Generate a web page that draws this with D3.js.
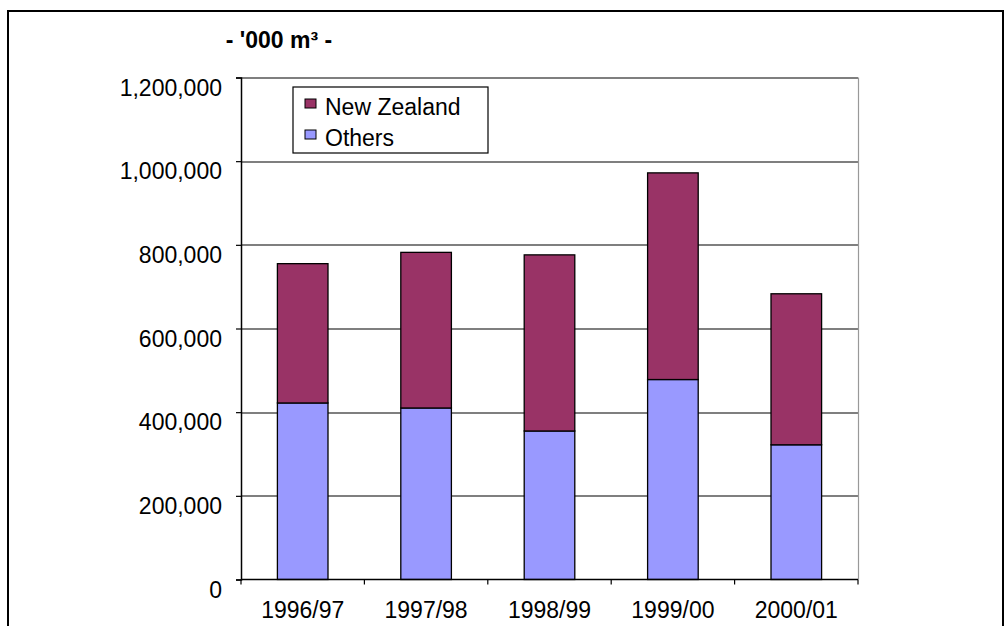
<!DOCTYPE html>
<html>
<head>
<meta charset="utf-8">
<script src="https://cdn.jsdelivr.net/npm/d3@7"></script>
<style>
  html, body { margin: 0; padding: 0; background: #fff; }
  svg text { font-family: Arial, "Liberation Sans", sans-serif; fill: #000; }
</style>
</head>
<body>
<svg id="chart" width="1007" height="626"></svg>
<script>
// Harvest volumes by origin, thousand cubic metres
const years = ["1996/97", "1997/98", "1998/99", "1999/00", "2000/01"];
const others = [422000, 410000, 355000, 478000, 322000];
const newZealand = [333000, 372000, 421000, 494000, 361000];
const seriesNames = ["New Zealand", "Others"];
const seriesColors = ["#993366", "#9999FF"];
const yTicks = [0, 200000, 400000, 600000, 800000, 1000000, 1200000];
const unitLabel = "- '000 m\u00B3 -";

const svg = d3.select("#chart");
const margin = { left: 241, right: 1007 - 858, top: 77.5, bottom: 626 - 579.5 };
const width = 1007 - margin.left - margin.right;
const height = 626 - margin.top - margin.bottom;

// outer frame
svg.append("rect")
  .attr("x", 8).attr("y", 11)
  .attr("width", 995).attr("height", 640)
  .attr("fill", "none").attr("stroke", "#000").attr("stroke-width", 2);

const g = svg.append("g").attr("transform", `translate(${margin.left},${margin.top})`);

const x = d3.scaleBand().domain(years).range([0, width]).paddingInner(0.59).paddingOuter(0.295);
const y = d3.scaleLinear().domain([0, 1200000]).range([height, 0]);

// gridlines
g.append("g").selectAll("line").data(yTicks.slice(1)).join("line")
  .attr("x1", 0).attr("x2", width)
  .attr("y1", d => Math.round(y(d)) + 0.5).attr("y2", d => Math.round(y(d)) + 0.5)
  .attr("stroke", "#000").attr("stroke-width", 1.2);

// right edge of the plot area
g.append("line")
  .attr("x1", width + 0.5).attr("x2", width + 0.5)
  .attr("y1", 0).attr("y2", height)
  .attr("stroke", "#999").attr("stroke-width", 1.2);

// stacked bars
const rows = years.map((yr, i) => ({ year: yr, "Others": others[i], "New Zealand": newZealand[i] }));
const stack = d3.stack().keys(["Others", "New Zealand"]);
const layers = stack(rows);
const colorOf = k => seriesColors[seriesNames.indexOf(k)];

g.append("g").selectAll("g").data(layers).join("g")
  .attr("fill", d => colorOf(d.key))
  .selectAll("rect").data(d => d).join("rect")
  .attr("x", d => x(d.data.year))
  .attr("width", x.bandwidth())
  .attr("y", d => y(d[1]))
  .attr("height", d => y(d[0]) - y(d[1]))
  .attr("stroke", "#000").attr("stroke-width", 1.3);

// y axis
const yAxis = g.append("g")
  .call(d3.axisLeft(y).tickValues(yTicks).tickSize(5).tickPadding(14)
    .tickFormat(d3.format(",")));
yAxis.select(".domain").attr("stroke", "#000").attr("stroke-width", 1.5);
yAxis.selectAll(".tick line").attr("stroke", "#000").attr("stroke-width", 1.2);
yAxis.selectAll(".tick text")
  .attr("font-size", 23).attr("dy", "0.77em")
  .style("font-family", "Arial, 'Liberation Sans', sans-serif");

// x axis with ticks at category boundaries
const xAxisG = g.append("g").attr("transform", `translate(0,${height})`);
xAxisG.append("line").attr("x1", 0).attr("x2", width).attr("y1", 0).attr("y2", 0)
  .attr("stroke", "#000").attr("stroke-width", 1.5);
const step = x.step();
const firstEdge = x(years[0]) - step * x.paddingOuter();
xAxisG.selectAll(".bt").data(d3.range(years.length + 1)).join("line")
  .attr("class", "bt")
  .attr("x1", i => firstEdge + i * step)
  .attr("x2", i => firstEdge + i * step)
  .attr("y1", 0).attr("y2", 5)
  .attr("stroke", "#000").attr("stroke-width", 1.2);
xAxisG.selectAll(".xl").data(years).join("text")
  .attr("class", "xl")
  .attr("x", d => x(d) + x.bandwidth() / 2)
  .attr("y", 38.5)
  .attr("text-anchor", "middle")
  .attr("font-size", 23)
  .text(d => d);

// unit label
svg.append("text")
  .attr("x", 279).attr("y", 48)
  .attr("text-anchor", "middle")
  .attr("font-size", 23).attr("font-weight", "bold")
  .text(unitLabel);

// legend
const lg = svg.append("g").attr("transform", "translate(293,87)");
lg.append("rect").attr("x", 0).attr("y", 0).attr("width", 195).attr("height", 66)
  .attr("fill", "#fff").attr("stroke", "#000").attr("stroke-width", 1.2);
const items = lg.selectAll(".li").data(seriesNames).join("g")
  .attr("class", "li")
  .attr("transform", (d, i) => `translate(12,${12 + i * 31})`);
items.append("rect").attr("width", 11).attr("height", 9)
  .attr("fill", (d, i) => seriesColors[i]).attr("stroke", "#000").attr("stroke-width", 1);
items.append("text").attr("x", 20).attr("y", 16)
  .attr("font-size", 23).text(d => d);
</script>
</body>
</html>
